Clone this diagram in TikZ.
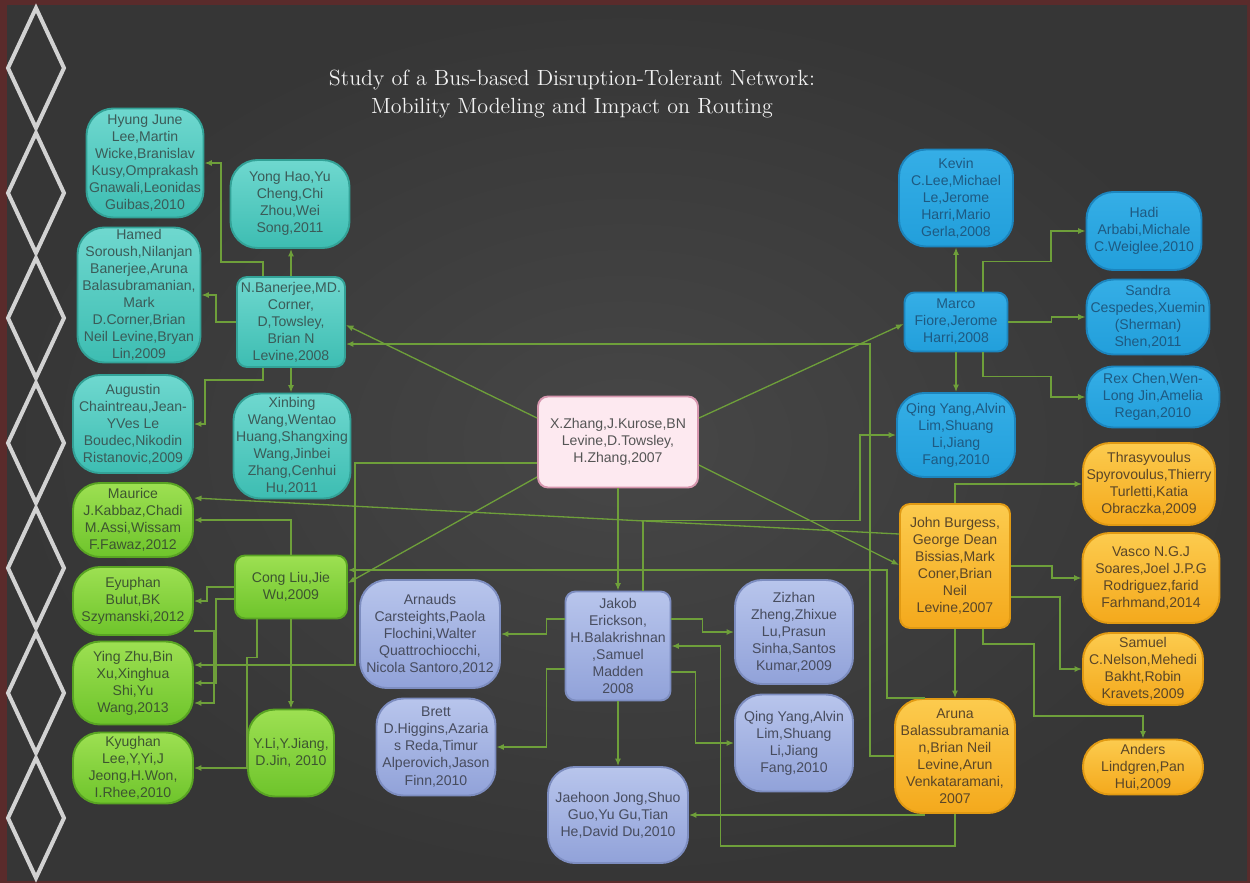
\documentclass[tikz,border=0pt]{standalone}
\usepackage{fontspec}
\newfontfamily\nodefont{Liberation Sans}
\usetikzlibrary{arrows.meta, backgrounds, calc}
\definecolor{busbg}{HTML}{474747}
\definecolor{busbgdark}{HTML}{363636}
\definecolor{busframe}{HTML}{5A2B2B}
\definecolor{busdiamond}{HTML}{D2D2D2}
\definecolor{buslink}{HTML}{6E9F3A}
\definecolor{bustitle}{HTML}{F2F2F2}
\definecolor{bustealtop}{HTML}{6FD8CF}
\definecolor{bustealbot}{HTML}{3DBDB2}
\definecolor{bustealline}{HTML}{33A297}
\definecolor{bustealtext}{HTML}{3B5B58}
\definecolor{busgreentop}{HTML}{9DE052}
\definecolor{busgreenbot}{HTML}{6EC42B}
\definecolor{busgreenline}{HTML}{59A423}
\definecolor{busgreentext}{HTML}{3D5530}
\definecolor{buspurpletop}{HTML}{B8C5EC}
\definecolor{buspurplebot}{HTML}{91A2D9}
\definecolor{buspurpleline}{HTML}{7D8DC0}
\definecolor{buspurpletext}{HTML}{474C5E}
\definecolor{busbluetop}{HTML}{35AEE6}
\definecolor{busbluebot}{HTML}{229FDB}
\definecolor{busblueline}{HTML}{1C85BE}
\definecolor{busbluetext}{HTML}{1E5A82}
\definecolor{busorangetop}{HTML}{FCCB4E}
\definecolor{busorangebot}{HTML}{F4A91C}
\definecolor{busorangeline}{HTML}{E19A13}
\definecolor{busorangetext}{HTML}{5A4628}
\definecolor{buspink}{HTML}{FDE9F0}
\definecolor{buspinkline}{HTML}{D696AE}
\definecolor{buspinktext}{HTML}{555555}
\tikzset{
  paperbox/.style={
    rounded corners=5.4mm,
    line width=1.1pt,
    align=center,
    inner sep=1pt,
    font=\nodefont\fontsize{8}{9.7}\selectfont
  },
  hubbox/.style={rounded corners=2mm},
  dims/.style 2 args={minimum width=#1*0.2mm, minimum height=#2*0.2mm},
  tealpaper/.style={paperbox, draw=bustealline, top color=bustealtop, bottom color=bustealbot, text=bustealtext},
  greenpaper/.style={paperbox, draw=busgreenline, top color=busgreentop, bottom color=busgreenbot, text=busgreentext},
  purplepaper/.style={paperbox, draw=buspurpleline, top color=buspurpletop, bottom color=buspurplebot, text=buspurpletext},
  bluepaper/.style={paperbox, draw=busblueline, top color=busbluetop, bottom color=busbluebot, text=busbluetext},
  orangepaper/.style={paperbox, draw=busorangeline, top color=busorangetop, bottom color=busorangebot, text=busorangetext},
  rootpaper/.style={paperbox, hubbox, draw=buspinkline, fill=buspink, text=buspinktext},
  citearrow/.style={
    -{Latex[length=1.5mm,width=1.2mm]},
    line width=0.75pt,
    draw=buslink
  },
  diamondline/.style={draw=busdiamond, line width=0.8mm},
  titletext/.style={
    text=bustitle,
    align=center,
    font=\fontsize{12.5}{15.4}\selectfont
  }
}

\begin{document}
\begin{tikzpicture}[x=0.2mm,y=-0.2mm]
\useasboundingbox (0,0) rectangle (1250,883);
\fill[busframe] (0,0) rectangle (1250,883);
\shade[inner color=busbg, outer color=busbgdark, shading=radial] (7,5) rectangle (1247,880);
\foreach \k in {0,...,6}
  \draw[diamondline] (36,8+125*\k) -- (64,68+125*\k) -- (36,128+125*\k) -- (8,68+125*\k) -- cycle;

\node[titletext] (title) at (572,94)
  {Study of a Bus-based Disruption-Tolerant Network:\\Mobility Modeling and Impact on Routing};

\node[rootpaper, dims={160}{91}] (zhang07) at (618,442)
  {X.Zhang,J.Kurose,BN\\Levine,D.Towsley,\\H.Zhang,2007};

\node[tealpaper, dims={117}{109}] (lee10) at (145,163)
  {Hyung June\\Lee,Martin\\Wicke,Branislav\\Kusy,Omprakash\\Gnawali,Leonidas\\Guibas,2010};
\node[tealpaper, dims={119}{88}] (hao11) at (290,204)
  {Yong Hao,Yu\\Cheng,Chi\\Zhou,Wei\\Song,2011};
\node[tealpaper, dims={123}{135}] (soroush09) at (139,295)
  {Hamed\\Soroush,Nilanjan\\Banerjee,Aruna\\Balasubramanian,\\Mark\\D.Corner,Brian\\Neil Levine,Bryan\\Lin,2009};
\node[tealpaper, hubbox, dims={108}{90}] (banerjee08) at (291,322)
  {N.Banerjee,MD.\\Corner,\\D,Towsley,\\Brian N\\Levine,2008};
\node[tealpaper, dims={120}{98}] (chaintreau09) at (133,424)
  {Augustin\\Chaintreau,Jean-\\YVes Le\\Boudec,Nikodin\\Ristanovic,2009};
\node[tealpaper, dims={117}{105}] (wang11) at (292,446)
  {Xinbing\\Wang,Wentao\\Huang,Shangxing\\Wang,Jinbei\\Zhang,Cenhui\\Hu,2011};

\node[greenpaper, dims={120}{74}] (kabbaz12) at (133,520)
  {Maurice\\J.Kabbaz,Chadi\\M.Assi,Wissam\\F.Fawaz,2012};
\node[greenpaper, hubbox, dims={112}{63}] (liu09) at (291,587)
  {Cong Liu,Jie\\Wu,2009};
\node[greenpaper, dims={120}{68}] (bulut12) at (133,601)
  {Eyuphan\\Bulut,BK\\Szymanski,2012};
\node[greenpaper, dims={120}{83}] (zhu13) at (133,683)
  {Ying Zhu,Bin\\Xu,Xinghua\\Shi,Yu\\Wang,2013};
\node[greenpaper, dims={120}{71}] (kyughan10) at (133,768)
  {Kyughan\\Lee,Y,Yi,J\\Jeong,H.Won,\\I.Rhee,2010};
\node[greenpaper, dims={86}{87}] (li10) at (291,753)
  {Y.Li,Y.Jiang,\\D.Jin, 2010};

\node[purplepaper, dims={140}{108}] (carsteights12) at (430,634)
  {Arnauds\\Carsteights,Paola\\Flochini,Walter\\Quattrochiocchi,\\Nicola Santoro,2012};
\node[purplepaper, dims={119}{97}] (higgins10) at (436,747)
  {Brett\\D.Higgins,Azaria\\s Reda,Timur\\Alperovich,Jason\\Finn,2010};
\node[purplepaper, hubbox, dims={105}{109}] (erickson08) at (618,646)
  {Jakob\\Erickson,\\H.Balakrishnan\\,Samuel\\Madden\\2008};
\node[purplepaper, dims={140}{96}] (jong10) at (618,815)
  {Jaehoon Jong,Shuo\\Guo,Yu Gu,Tian\\He,David Du,2010};
\node[purplepaper, dims={118}{104}] (zheng09) at (794,632)
  {Zizhan\\Zheng,Zhixue\\Lu,Prasun\\Sinha,Santos\\Kumar,2009};
\node[purplepaper, dims={118}{97}] (yangp10) at (794,743)
  {Qing Yang,Alvin\\Lim,Shuang\\Li,Jiang\\Fang,2010};

\node[bluepaper, dims={114}{97}] (kevinlee08) at (956,198)
  {Kevin\\C.Lee,Michael\\Le,Jerome\\Harri,Mario\\Gerla,2008};
\node[bluepaper, hubbox, dims={103}{59}] (fiore08) at (956,322)
  {Marco\\Fiore,Jerome\\Harri,2008};
\node[bluepaper, dims={115}{78}] (arbabi10) at (1144,231)
  {Hadi\\Arbabi,Michale\\C.Weiglee,2010};
\node[bluepaper, dims={123}{75}] (cespedes11) at (1148,317)
  {Sandra\\Cespedes,Xuemin\\(Sherman)\\Shen,2011};
\node[bluepaper, dims={133}{61}] (chen10) at (1153,397)
  {Rex Chen,Wen-\\Long Jin,Amelia\\Regan,2010};
\node[bluepaper, dims={118}{84}] (yangb10) at (956,435)
  {Qing Yang,Alvin\\Lim,Shuang\\Li,Jiang\\Fang,2010};

\node[orangepaper, hubbox, dims={110}{124}] (burgess07) at (955,566)
  {John Burgess,\\George Dean\\Bissias,Mark\\Coner,Brian\\Neil\\Levine,2007};
\node[orangepaper, dims={132}{82}] (spyro09) at (1149,484)
  {Thrasyvoulus\\Spyrovoulus,Thierry\\Turletti,Katia\\Obraczka,2009};
\node[orangepaper, dims={137}{90}] (soares14) at (1151,578)
  {Vasco N.G.J\\Soares,Joel J.P.G\\Rodriguez,farid\\Farhmand,2014};
\node[orangepaper, dims={120}{72}] (nelson09) at (1143,669)
  {Samuel\\C.Nelson,Mehedi\\Bakht,Robin\\Kravets,2009};
\node[orangepaper, dims={120}{55}] (lindgren09) at (1143,767)
  {Anders\\Lindgren,Pan\\Hui,2009};
\node[orangepaper, dims={120}{114}] (balasub07) at (955,756)
  {Aruna\\Balassubramania\\n,Brian Neil\\Levine,Arun\\Venkataramani,\\2007};

\draw[citearrow] ($(zhang07.west)+(0,-24)$) -- ($(banerjee08.east)+(0,3)$);
\draw[citearrow] ($(zhang07.west)+(0,35)$) -- ($(liu09.east)+(0,-4)$);
\draw[citearrow] ($(zhang07.west)+(0,21)$) -- ++(-182,0) |- ($(zhu13.east)+(0,-18)$);
\draw[citearrow] (zhang07.south) -- (erickson08.north);
\draw[citearrow] ($(zhang07.east)+(0,-24)$) -- ($(fiore08.west)+(0,2)$);
\draw[citearrow] ($(zhang07.east)+(0,23)$) -- ($(burgess07.west)+(0,-1)$);

\draw[citearrow] (banerjee08.north) -- (banerjee08.north |- hao11.south);
\draw[citearrow] ($(banerjee08.north)+(-28,0)$) -- ++(0,-14) -- ++(-42,0) |- (lee10.east);
\draw[citearrow] (banerjee08.west) -- ++(-20,0) |- (soroush09.east);
\draw[citearrow] ($(banerjee08.south)+(-28,0)$) -- ++(0,12) -- ++(-58,0) |- (chaintreau09.east);
\draw[citearrow] (banerjee08.south) -- (banerjee08.south |- wang11.north);

\draw[citearrow] (liu09.north) |- (kabbaz12.east);
\draw[citearrow] (liu09.west) -- ++(-27,0) |- (bulut12.east);
\draw[citearrow] ($(liu09.west)+(0,12)$) -- ++(-18,0) |- (zhu13.east);
\draw[citearrow] ($(bulut12.east)+(0,30)$) -- ++(20,0) |- ($(zhu13.east)+(0,20)$);
\draw[citearrow] ($(liu09.south)+(-34,0)$) -- ++(0,38) -- ++(-10,0) |- (kyughan10.east);
\draw[citearrow] (liu09.south) -- (liu09.south |- li10.north);

\draw[citearrow] ($(erickson08.west)+(0,-27)$) -- ++(-18,0) |- (carsteights12.east);
\draw[citearrow] ($(erickson08.west)+(0,23)$) -- ++(-18,0) |- (higgins10.east);
\draw[citearrow] ($(erickson08.east)+(0,-27)$) -- ++(31,0) |- (zheng09.west);
\draw[citearrow] ($(erickson08.east)+(0,26)$) -- ++(24,0) |- (yangp10.west);
\draw[citearrow] (erickson08.south) -- (jong10.north);
\draw[citearrow] ($(erickson08.north)+(25,0)$) -- ++(0,-70) -- ++(217,0) |- (yangb10.west);

\draw[citearrow] (fiore08.north) -- (kevinlee08.south);
\draw[citearrow] ($(fiore08.north)+(27,0)$) -- ++(0,-30) -- ++(68,0) |- (arbabi10.west);
\draw[citearrow] (fiore08.east) -- ++(43,0) |- (cespedes11.west);
\draw[citearrow] ($(fiore08.south)+(27,0)$) -- ++(0,24) -- ++(68,0) |- (chen10.west);
\draw[citearrow] (fiore08.south) -- (yangb10.north);

\draw[citearrow] ($(burgess07.west)+(0,-32)$) -- ($(kabbaz12.east)+(0,-22)$);
\draw[citearrow] (burgess07.north) |- (spyro09.west);
\draw[citearrow] (burgess07.east) -- ++(41,0) |- (soares14.west);
\draw[citearrow] ($(burgess07.east)+(0,31)$) -- ++(49,0) |- (nelson09.west);
\draw[citearrow] ($(burgess07.south)+(28,0)$) -- ++(0,15) -- ++(51,0) -- ++(0,72) -| (lindgren09.north);
\draw[citearrow] (burgess07.south) -- (balasub07.north);

\draw[citearrow] (balasub07.west) -- ++(-24,0) |- ($(banerjee08.east)+(0,22)$);
\draw[citearrow] ($(balasub07.north)+(-30,0)$) -- ++(-38,0) |- ($(liu09.east)+(0,-17)$);
\draw[citearrow] (balasub07.south) -- ++(0,32) -| ($(erickson08.east)+(49,0)$) -- (erickson08.east);
\draw[citearrow] ($(jong10.east -| balasub07.south)+(-30,0)$) -- (jong10.east);
\end{tikzpicture}
\end{document}
